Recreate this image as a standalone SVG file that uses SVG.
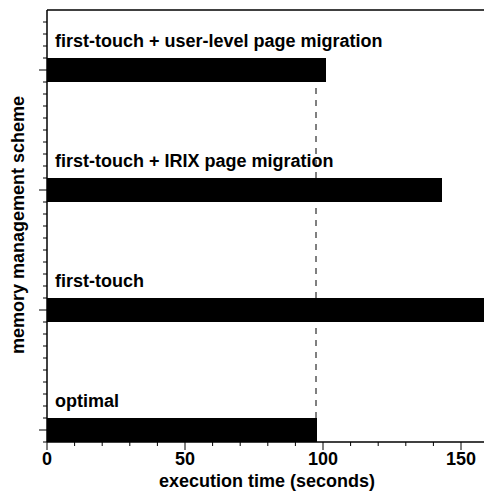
<svg xmlns="http://www.w3.org/2000/svg" width="484" height="494" viewBox="0 0 484 494">
<style>
.lbl{font-family:"Liberation Sans",Arial,sans-serif;font-weight:bold;font-size:18px;fill:#000}
.tk{font-family:"Liberation Sans",Arial,sans-serif;font-weight:bold;font-size:18px;fill:#000;text-anchor:middle}
.ax{stroke:#000;stroke-width:1.5;fill:none}
.tick{stroke:#000;stroke-width:1}
.bar{fill:#000}
</style>
<rect width="484" height="494" fill="#fff"/>
<g id="reference-line">
<line x1="316" y1="88" x2="316" y2="418" stroke="#000" stroke-width="1" stroke-dasharray="6,6"/>
</g>
<g id="bars">
<g id="bar-user-level"><rect class="bar" x="47" y="58" width="279" height="24"/><text class="lbl" x="55" y="47">first-touch + user-level page migration</text></g>
<g id="bar-irix"><rect class="bar" x="47" y="178" width="395" height="24"/><text class="lbl" x="55" y="167">first-touch + IRIX page migration</text></g>
<g id="bar-first-touch"><rect class="bar" x="47" y="298" width="437" height="24"/><text class="lbl" x="55" y="287">first-touch</text></g>
<g id="bar-optimal"><rect class="bar" x="47" y="418" width="270" height="24"/><text class="lbl" x="55" y="407">optimal</text></g>
</g>
<g id="axes">
<line class="ax" x1="47" y1="10" x2="484" y2="10"/>
<line class="ax" x1="47" y1="10" x2="47" y2="442"/>
<line class="ax" x1="47" y1="442" x2="484" y2="442"/>
<g class="tick" stroke="#000">
<line x1="43" y1="22" x2="47" y2="22"/><line x1="43" y1="34" x2="47" y2="34"/><line x1="43" y1="46" x2="47" y2="46"/><line x1="43" y1="58" x2="47" y2="58"/>
<line x1="39" y1="70" x2="47" y2="70"/>
<line x1="43" y1="82" x2="47" y2="82"/><line x1="43" y1="94" x2="47" y2="94"/><line x1="43" y1="106" x2="47" y2="106"/><line x1="43" y1="118" x2="47" y2="118"/><line x1="43" y1="130" x2="47" y2="130"/><line x1="43" y1="142" x2="47" y2="142"/><line x1="43" y1="154" x2="47" y2="154"/><line x1="43" y1="166" x2="47" y2="166"/><line x1="43" y1="178" x2="47" y2="178"/>
<line x1="39" y1="190" x2="47" y2="190"/>
<line x1="43" y1="202" x2="47" y2="202"/><line x1="43" y1="214" x2="47" y2="214"/><line x1="43" y1="226" x2="47" y2="226"/><line x1="43" y1="238" x2="47" y2="238"/><line x1="43" y1="250" x2="47" y2="250"/><line x1="43" y1="262" x2="47" y2="262"/><line x1="43" y1="274" x2="47" y2="274"/><line x1="43" y1="286" x2="47" y2="286"/><line x1="43" y1="298" x2="47" y2="298"/>
<line x1="39" y1="310" x2="47" y2="310"/>
<line x1="43" y1="322" x2="47" y2="322"/><line x1="43" y1="334" x2="47" y2="334"/><line x1="43" y1="346" x2="47" y2="346"/><line x1="43" y1="358" x2="47" y2="358"/><line x1="43" y1="370" x2="47" y2="370"/><line x1="43" y1="382" x2="47" y2="382"/><line x1="43" y1="394" x2="47" y2="394"/><line x1="43" y1="406" x2="47" y2="406"/><line x1="43" y1="418" x2="47" y2="418"/>
<line x1="39" y1="430" x2="47" y2="430"/>
<line x1="43" y1="442" x2="47" y2="442"/>
<line x1="47" y1="442" x2="47" y2="450"/>
<line x1="74.6" y1="442" x2="74.6" y2="446"/><line x1="102.2" y1="442" x2="102.2" y2="446"/><line x1="129.8" y1="442" x2="129.8" y2="446"/><line x1="157.4" y1="442" x2="157.4" y2="446"/>
<line x1="185" y1="442" x2="185" y2="450"/>
<line x1="212.6" y1="442" x2="212.6" y2="446"/><line x1="240.2" y1="442" x2="240.2" y2="446"/><line x1="267.8" y1="442" x2="267.8" y2="446"/><line x1="295.4" y1="442" x2="295.4" y2="446"/>
<line x1="323" y1="442" x2="323" y2="450"/>
<line x1="350.6" y1="442" x2="350.6" y2="446"/><line x1="378.2" y1="442" x2="378.2" y2="446"/><line x1="405.8" y1="442" x2="405.8" y2="446"/><line x1="433.4" y1="442" x2="433.4" y2="446"/>
<line x1="461" y1="442" x2="461" y2="450"/>
</g>
<text class="tk" x="47" y="465">0</text>
<text class="tk" x="185" y="465">50</text>
<text class="tk" x="323" y="465">100</text>
<text class="tk" x="461" y="465">150</text>
<text class="lbl" x="267" y="487" text-anchor="middle">execution time (seconds)</text>
<text class="lbl" transform="translate(24 225) rotate(-90)" text-anchor="middle">memory management scheme</text>
</g>
</svg>
